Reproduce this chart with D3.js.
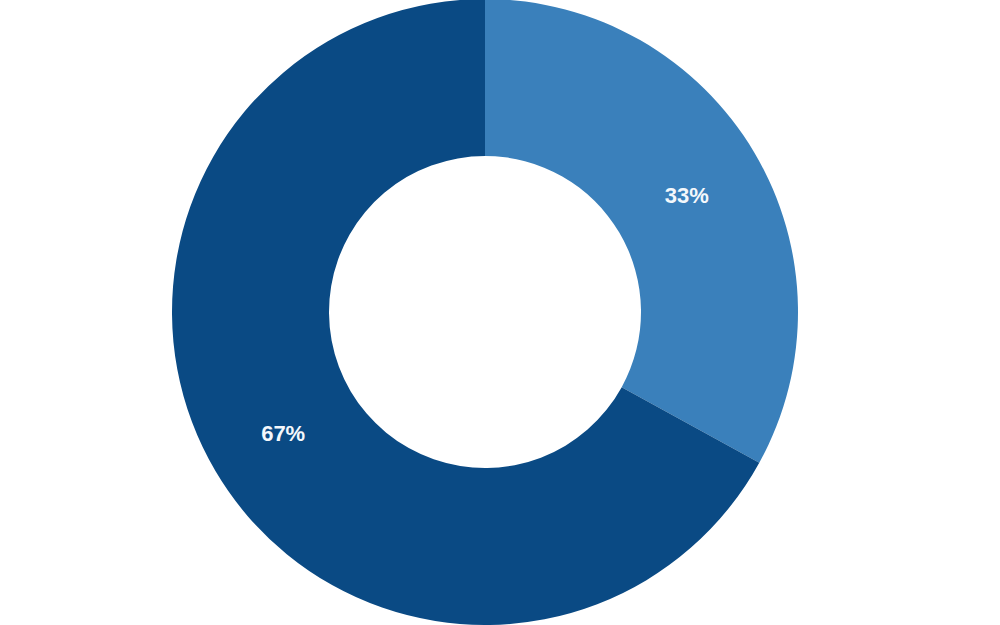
<!DOCTYPE html>
<html>
<head>
<meta charset="utf-8">
<script src="https://cdn.jsdelivr.net/npm/d3@7"></script>
<style>
  html, body { margin: 0; padding: 0; background: #ffffff; }
  svg { display: block; }
</style>
</head>
<body>
<svg id="chart" width="1000" height="625"></svg>
<script>
const categories = ["A", "B"];
const values = [33, 67];
const labels = ["33%", "67%"];
const colors = ["#3a80bb", "#0a4a84"];

const svg = d3.select("#chart");
const cx = 485, cy = 312, outerR = 313, innerR = 156;

const g = svg.append("g").attr("transform", `translate(${cx},${cy})`);

const data = categories.map((c, i) => ({ cat: c, value: values[i], label: labels[i], color: colors[i] }));

const pie = d3.pie().value(d => d.value).sort(null);
const arc = d3.arc().innerRadius(innerR).outerRadius(outerR);

const arcs = pie(data);

g.selectAll("path.slice")
  .data(arcs)
  .join("path")
  .attr("class", "slice")
  .attr("d", arc)
  .attr("fill", d => d.data.color);

g.selectAll("text.lbl")
  .data(arcs)
  .join("text")
  .attr("class", "lbl")
  .attr("transform", d => `translate(${arc.centroid(d)})`)
  .attr("text-anchor", "middle")
  .attr("dy", "0.45em")
  .attr("font-family", "Liberation Sans, Arial, sans-serif")
  .attr("font-weight", "bold")
  .attr("font-size", "22px")
  .attr("fill", "#f4f8fc")
  .text(d => d.data.label);
</script>
</body>
</html>
